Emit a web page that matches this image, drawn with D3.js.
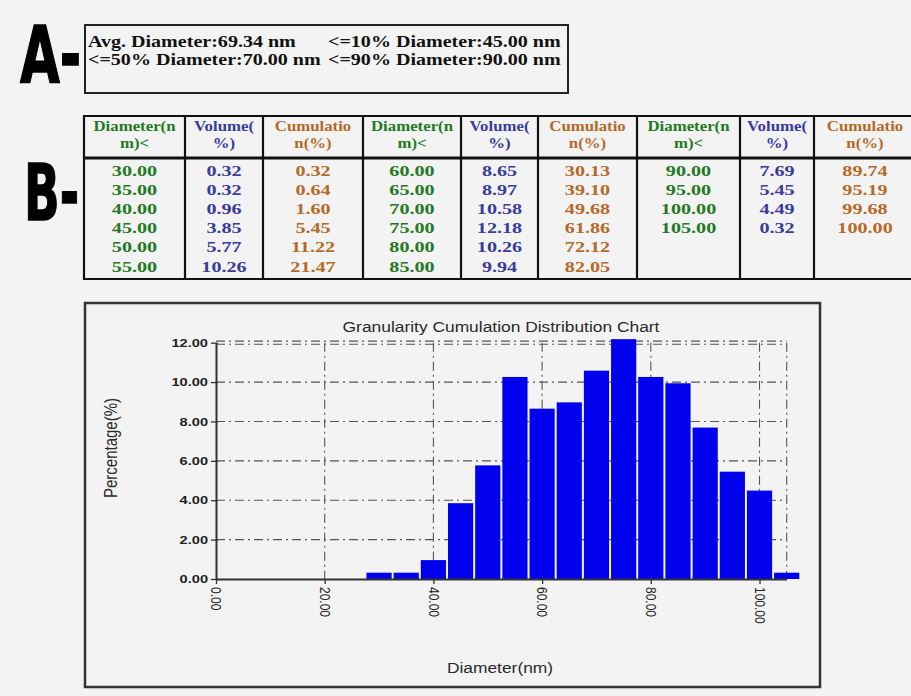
<!DOCTYPE html>
<html>
<head>
<meta charset="utf-8">
<script src="https://cdn.jsdelivr.net/npm/d3@7/dist/d3.min.js"></script>
<style>
  html, body { margin: 0; padding: 0; background: #f3f3f3; }
  svg { display: block; }
</style>
</head>
<body>
<div id="chart"></div>
<script>
// data
const summaryLines = [
  ['Avg. Diameter:69.34 nm', '<=10% Diameter:45.00 nm'],
  ['<=50% Diameter:70.00 nm', '<=90% Diameter:90.00 nm']
];
const headerDiameter = ['Diameter(n', 'm)<'];
const headerVolume = ['Volume(', '%)'];
const headerCumulation = ['Cumulatio', 'n(%)'];
const diameters = [30, 35, 40, 45, 50, 55, 60, 65, 70, 75, 80, 85, 90, 95, 100, 105];
const volumes = [0.32, 0.32, 0.96, 3.85, 5.77, 10.26, 8.65, 8.97, 10.58, 12.18, 10.26, 9.94, 7.69, 5.45, 4.49, 0.32];
const cumulation = [0.32, 0.64, 1.60, 5.45, 11.22, 21.47, 30.13, 39.10, 49.68, 61.86, 72.12, 82.05, 89.74, 95.19, 99.68, 100.00];
const xTicks = [0, 20, 40, 60, 80, 100];
const yTicks = [0, 2, 4, 6, 8, 10, 12];
const chartTitle = 'Granularity Cumulation Distribution  Chart';
const xLabel = 'Diameter(nm)';
const yLabel = 'Percentage(%)';

const W = 911, H = 696;
const green = '#247a24', blue = '#3b3b9e', brown = '#b56a28';
const fmt = d3.format('.2f');
const SX = 1.27; // the source picture is stretched sideways

const svg = d3.select('#chart').append('svg').attr('width', W).attr('height', H);
svg.append('rect').attr('width', W).attr('height', H).attr('fill', '#f3f3f3');

function stretched(g, x, y, txt, sx, extra) {
  return g.append('text')
    .attr('transform', `translate(${x},${y}) scale(${sx},1)` + (extra || ''))
    .text(txt);
}

// ---- A / B markers (heavy, narrow letters)
const mark = svg.append('g')
  .attr('font-family', 'DejaVu Sans, sans-serif')
  .attr('font-weight', 'bold').attr('font-size', 78)
  .attr('stroke', '#000').attr('stroke-width', 1.5).attr('fill', '#000');
stretched(mark, 20, 82, 'A-', 0.66);
stretched(mark, 24, 220, 'B-', 0.6);

// ---- A: summary box
svg.append('rect').attr('x', 85).attr('y', 25).attr('width', 483).attr('height', 68)
  .attr('fill', 'none').attr('stroke', '#222').attr('stroke-width', 2);
const sumG = svg.append('g')
  .attr('font-family', 'Liberation Serif, Times New Roman, serif')
  .attr('font-weight', 'bold').attr('font-size', 17).attr('fill', '#111');
summaryLines.forEach((line, i) => {
  stretched(sumG, 88, 47 + i * 18, line[0], 1.18);
  stretched(sumG, 328, 47 + i * 18, line[1], 1.18);
});

// ---- B: table
const colX = [84, 185, 263, 363, 461, 538, 637, 740, 814, 916];
const tTop = 116, tHead = 158, tBot = 279;
const tbl = svg.append('g');
tbl.append('line').attr('x1', colX[0]).attr('x2', W).attr('y1', tTop).attr('y2', tTop)
  .attr('stroke', '#111').attr('stroke-width', 2.2);
tbl.append('line').attr('x1', colX[0]).attr('x2', W).attr('y1', tHead).attr('y2', tHead)
  .attr('stroke', '#111').attr('stroke-width', 2.8);
tbl.append('line').attr('x1', colX[0]).attr('x2', W).attr('y1', tBot).attr('y2', tBot)
  .attr('stroke', '#111').attr('stroke-width', 2.2);
colX.forEach(x => {
  tbl.append('line').attr('x1', x).attr('x2', x).attr('y1', tTop - 1).attr('y2', tBot + 1)
    .attr('stroke', '#111').attr('stroke-width', 2.2);
});

const txt = tbl.append('g')
  .attr('font-family', 'Liberation Serif, Times New Roman, serif')
  .attr('font-weight', 'bold').attr('font-size', 15.5).attr('text-anchor', 'middle');
const rowsPerGroup = 6;
for (let g = 0; g < 3; g++) {
  const cols = [
    { head: headerDiameter, color: green, vals: diameters, c: colX[g * 3], n: colX[g * 3 + 1] },
    { head: headerVolume, color: blue, vals: volumes, c: colX[g * 3 + 1], n: colX[g * 3 + 2] },
    { head: headerCumulation, color: brown, vals: cumulation, c: colX[g * 3 + 2], n: colX[g * 3 + 3] }
  ];
  cols.forEach(col => {
    const cx = (col.c + col.n) / 2;
    col.head.forEach((h, i) => {
      stretched(txt, cx, 131 + i * 16.5, h, 1.2).attr('fill', col.color).attr('font-size', 14);
    });
    col.vals.slice(g * rowsPerGroup, (g + 1) * rowsPerGroup).forEach((v, i) => {
      stretched(txt, cx, 175.5 + i * 19.2, fmt(v), 1.3).attr('fill', col.color);
    });
  });
}

// ---- chart
svg.append('rect').attr('x', 85).attr('y', 303).attr('width', 735).attr('height', 384)
  .attr('fill', 'none').attr('stroke', '#333').attr('stroke-width', 2.5);

const x = d3.scaleLinear().domain([0, 105]).range([216, 786.7]);
const y = d3.scaleLinear().domain([0, 12]).range([579, 342.7]);
const dash = '9,4,2,4';
const grid = svg.append('g').attr('stroke', '#555').attr('stroke-width', 1.1)
  .attr('stroke-dasharray', dash).attr('fill', 'none');

yTicks.filter(d => d > 0 && d < 12).forEach(d => {
  grid.append('line').attr('x1', x(0)).attr('x2', x(105)).attr('y1', y(d)).attr('y2', y(d));
});
[-1.6, 1.6].forEach(o => {
  grid.append('line').attr('x1', x(0)).attr('x2', x(105))
    .attr('y1', y(12) + o).attr('y2', y(12) + o);
});
xTicks.filter(d => d > 0).concat([105]).forEach(d => {
  grid.append('line').attr('x1', x(d)).attr('x2', x(d)).attr('y1', y(12)).attr('y2', y(0));
});

// bars
svg.append('g').selectAll('rect')
  .data(diameters.map((d, i) => ({ d, v: volumes[i] })))
  .join('rect')
  .attr('x', p => x(p.d - 2.5) + 1)
  .attr('width', p => x(p.d + 2.5) - x(p.d - 2.5) - 2)
  .attr('y', p => y(p.v))
  .attr('height', p => y(0) - y(p.v))
  .attr('fill', '#0000ee');

// axes
const yAxis = svg.append('g').attr('transform', `translate(${x(0)},0)`)
  .call(d3.axisLeft(y).tickValues(yTicks).tickFormat(fmt).tickSize(5).tickSizeOuter(0));
yAxis.select('.domain').attr('stroke', '#333').attr('stroke-width', 2);
yAxis.selectAll('.tick line').attr('x1', 2).attr('x2', -5).attr('stroke', '#333').attr('stroke-width', 1.3);
yAxis.selectAll('.tick text')
  .attr('x', null)
  .attr('transform', `translate(-8,0) scale(${SX},1)`)
  .attr('font-family', 'Liberation Sans, Arial, sans-serif')
  .attr('font-weight', 'bold').attr('font-size', 11.5).attr('fill', '#222');

const xAxis = svg.append('g').attr('transform', `translate(0,${y(0)})`)
  .call(d3.axisBottom(x).tickValues(xTicks).tickFormat(fmt).tickSize(5).tickSizeOuter(0));
xAxis.select('.domain').attr('stroke', '#333').attr('stroke-width', 2);
xAxis.selectAll('.tick line').attr('stroke', '#333').attr('stroke-width', 1.3);
xAxis.selectAll('.tick text')
  .attr('x', 8).attr('y', 0).attr('dy', '0.35em')
  .attr('text-anchor', 'start')
  .attr('transform', `scale(${SX},1) rotate(90)`)
  .attr('font-family', 'Liberation Sans, Arial, sans-serif')
  .attr('font-size', 12).attr('fill', '#222');

// titles
const lab = svg.append('g').attr('font-family', 'Liberation Sans, Arial, sans-serif')
  .attr('fill', '#2a2a2a').attr('text-anchor', 'middle');
stretched(lab, 501, 332, chartTitle, 1.2).attr('font-size', 14.5);
stretched(lab, 500, 673, xLabel, 1.2).attr('font-size', 14.5);
stretched(lab, 117, 448, yLabel, SX, ' rotate(-90)').attr('font-size', 15);
</script>
</body>
</html>
